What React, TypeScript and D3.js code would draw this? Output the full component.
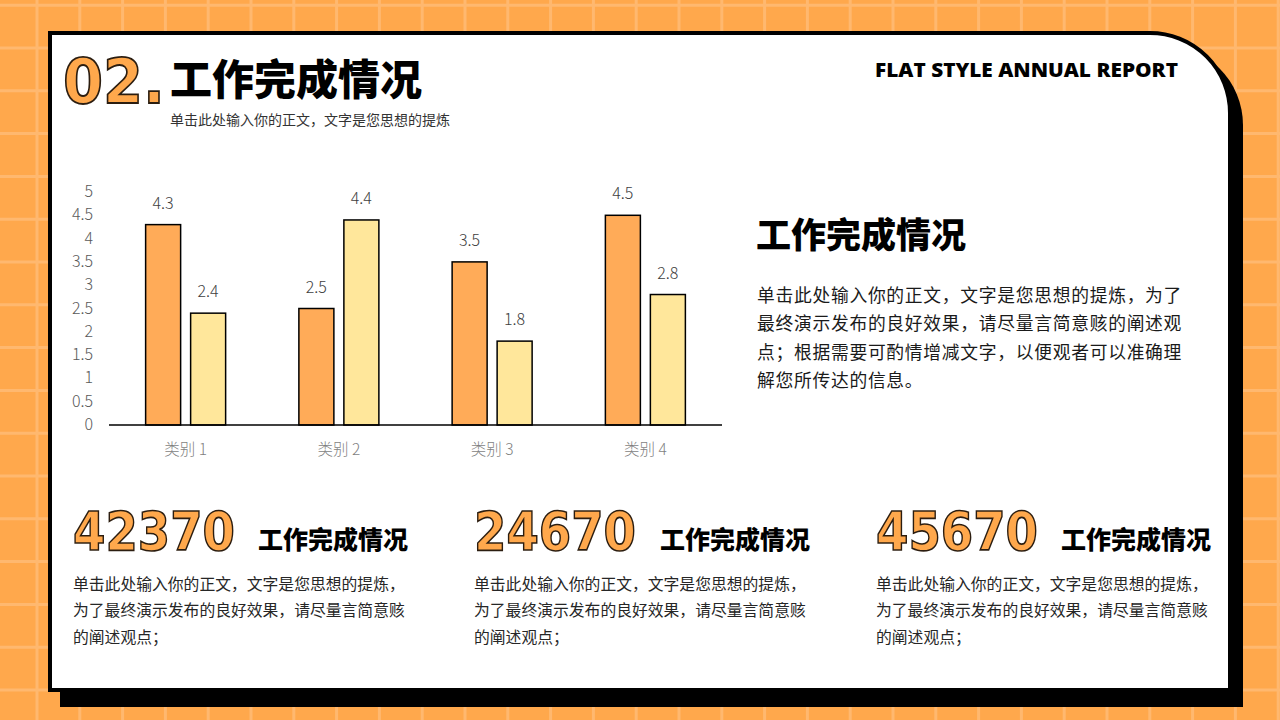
import React from "react";
import * as d3 from "d3";

const categories = ["类别 1", "类别 2", "类别 3", "类别 4"];
const seriesNames = ["系列 1", "系列 2"];
const series1 = [4.3, 2.5, 3.5, 4.5];
const series2 = [2.4, 4.4, 1.8, 2.8];
const yTicks = [0, 0.5, 1, 1.5, 2, 2.5, 3, 3.5, 4, 4.5, 5];
const statNumbers = ["42370", "24670", "45670"];
const mainTitle = "工作完成情况";
const subTitle = "单击此处输入你的正文，文字是您思想的提炼";
const rightLines = [
  "单击此处输入你的正文，文字是您思想的提炼，为了",
  "最终演示发布的良好效果，请尽量言简意赅的阐述观",
  "点；根据需要可酌情增减文字，以便观者可以准确理",
  "解您所传达的信息。",
];
const statLines = [
  "单击此处输入你的正文，文字是您思想的提炼，",
  "为了最终演示发布的良好效果，请尽量言简意赅",
  "的阐述观点；",
];

const W = 1280;
const H = 720;
const CJK = '"Noto Sans CJK SC", "Noto Sans", sans-serif';
const ORANGE = "#FFA84C";
const BAR1 = "#FFAB58";
const BAR2 = "#FFE79B";

function cardPath(x0: number, y0: number, x1: number, y1: number, r: number) {
  return `M${x0},${y0} L${x1 - r},${y0} A${r},${r} 0 0 1 ${x1},${y0 + r} L${x1},${y1} L${x0},${y1} Z`;
}

export default function App() {
  const x0 = d3.scaleBand<string>().domain(categories).range([109, 722]).padding(0);
  const x1 = d3.scaleBand<string>().domain(seriesNames).range([-40, 40]).paddingInner(10 / 45).paddingOuter(0);
  const y = d3.scaleLinear().domain([0, 5]).range([425, 192]);
  const data = [series1, series2];
  const fills = [BAR1, BAR2];

  const gridStep = 42.8;
  const vLines = d3.range(37 - gridStep, W + gridStep, gridStep);
  const hLines = d3.range(5.2, H + gridStep, gridStep);

  const sectionX = [73, 474, 876];
  const sectionTitleX = [258, 660, 1061];

  return (
    <svg width={W} height={H} style={{ position: "fixed", left: 0, top: 0 }}>
      <rect x={0} y={0} width={W} height={H} fill={ORANGE} />
      {vLines.map((v, i) => (
        <line key={"v" + i} x1={v} x2={v} y1={0} y2={H} stroke="#FFB86F" strokeWidth={3} />
      ))}
      {hLines.map((v, i) => (
        <line key={"h" + i} x1={0} x2={W} y1={v} y2={v} stroke="#FFB86F" strokeWidth={3} />
      ))}

      {/* card shadow and card */}
      <path d={cardPath(60, 45, 1243, 707, 80)} fill="#000" />
      <path d={cardPath(50, 33, 1230, 690, 80)} fill="#fff" stroke="#000" strokeWidth={4} />

      {/* header */}
      <text
        x={63}
        y={81}
        dominantBaseline="central"
        fontFamily='"DejaVu Sans", sans-serif'
        fontWeight={700}
        fontSize={63}
        fill={ORANGE}
        stroke="#2b1d10"
        strokeWidth={1.8}
        textLength={102}
        lengthAdjust="spacingAndGlyphs"
      >
        02.
      </text>
      <text x={170} y={76} dominantBaseline="central" fontFamily={CJK} fontWeight={900} fontSize={42} fill="#000">
        {mainTitle}
      </text>
      <text x={170} y={119} dominantBaseline="central" fontFamily={CJK} fontSize={14} fill="#333">
        {subTitle}
      </text>
      <text
        x={875}
        y={69}
        dominantBaseline="central"
        fontFamily='"Open Sans", sans-serif'
        fontWeight={800}
        fontSize={19.5}
        fill="#000"
        textLength={303}
        lengthAdjust="spacingAndGlyphs"
      >
        FLAT STYLE ANNUAL REPORT
      </text>

      {/* chart */}
      {yTicks.map((t) => (
        <text
          key={"t" + t}
          x={93}
          y={y(t) - 2}
          textAnchor="end"
          dominantBaseline="central"
          fontFamily={CJK}
          fontWeight={300}
          fontSize={16}
          fill="#595959"
        >
          {t}
        </text>
      ))}
      {categories.map((c, ci) => (
        <g key={c} transform={`translate(${(x0(c) as number) + x0.bandwidth() / 2},0)`}>
          {data.map((s, si) => {
            const bx = x1(seriesNames[si]) as number;
            return (
              <g key={si}>
                <rect
                  x={bx}
                  y={y(s[ci])}
                  width={x1.bandwidth()}
                  height={y(0) - y(s[ci])}
                  fill={fills[si]}
                  stroke="#000"
                  strokeWidth={1.5}
                />
                <text
                  x={bx + x1.bandwidth() / 2}
                  y={y(s[ci]) - 23}
                  textAnchor="middle"
                  dominantBaseline="central"
                  fontFamily={CJK}
                  fontWeight={300}
                  fontSize={16}
                  fill="#404040"
                >
                  {s[ci]}
                </text>
              </g>
            );
          })}
          <text
            x={0}
            y={448}
            textAnchor="middle"
            dominantBaseline="central"
            fontFamily={CJK}
            fontWeight={300}
            fontSize={15.5}
            fill="#7f7f7f"
          >
            {c}
          </text>
        </g>
      ))}
      <line x1={109} x2={722} y1={y(0)} y2={y(0)} stroke="#000" strokeWidth={1.5} />

      {/* right text block */}
      <text x={756} y={232} dominantBaseline="central" fontFamily={CJK} fontWeight={900} fontSize={35} fill="#000">
        {mainTitle}
      </text>
      {rightLines.map((l, i) => (
        <text
          key={"r" + i}
          x={757}
          y={293.5 + i * 28.6}
          dominantBaseline="central"
          fontFamily={CJK}
          fontSize={17.8}
          letterSpacing={0.7}
          fill="#1a1a1a"
        >
          {l}
        </text>
      ))}

      {/* bottom stats */}
      {statNumbers.map((n, i) => (
        <g key={n}>
          <text
            x={sectionX[i]}
            y={531}
            dominantBaseline="central"
            fontFamily='"DejaVu Sans", sans-serif'
            fontWeight={700}
            fontSize={53}
            fill={ORANGE}
            stroke="#2b1d10"
            strokeWidth={1.6}
            textLength={162}
            lengthAdjust="spacingAndGlyphs"
          >
            {n}
          </text>
          <text
            x={sectionTitleX[i]}
            y={538}
            dominantBaseline="central"
            fontFamily={CJK}
            fontWeight={900}
            fontSize={25}
            fill="#000"
          >
            {mainTitle}
          </text>
          {statLines.map((l, j) => (
            <text
              key={j}
              x={sectionX[i]}
              y={583 + j * 26.5}
              dominantBaseline="central"
              fontFamily={CJK}
              fontSize={15.8}
              fill="#262626"
            >
              {l}
            </text>
          ))}
        </g>
      ))}
    </svg>
  );
}
